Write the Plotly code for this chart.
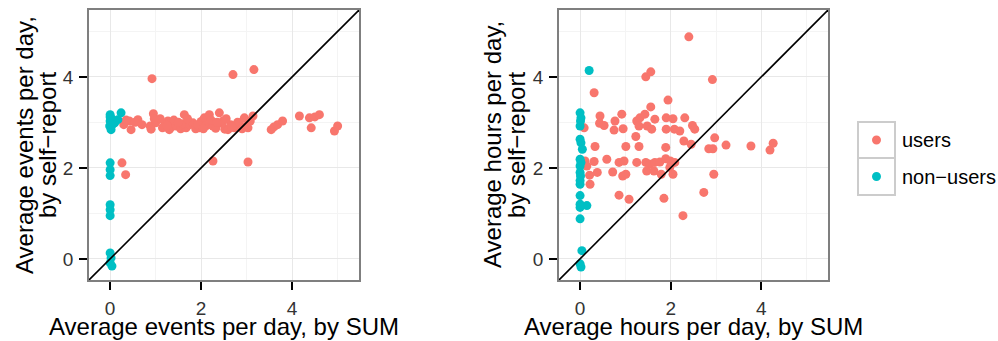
import plotly.graph_objects as go

# ---------------- data ----------------
# Left panel: events per day (x = by SUM, y = by self-report)
users_events_sum = [0.92, 2.70, 3.16, 0.95, 0.26, 0.34, 2.26, 3.03,
                    0.42, 0.61, 0.46, 0.55, 0.88, 1.00, 0.90, 1.27, 1.30, 1.20, 1.35, 1.45,
                    1.40, 1.55, 1.63, 1.67, 1.60, 1.75, 1.82, 1.88, 1.96, 2.00, 2.07, 2.12,
                    2.18, 2.26, 2.22, 2.32, 2.40, 2.45, 2.48, 2.52, 2.59, 2.65, 2.73, 2.80,
                    2.84, 2.90, 2.95, 3.00, 3.03, 3.08, 3.14, 3.54, 3.60, 3.68, 3.79, 4.16,
                    4.38, 4.42, 4.50, 4.60, 4.93, 5.00, 1.10, 1.15, 1.50, 1.70, 1.92, 2.05,
                    2.35, 2.55, 2.68, 1.25, 0.97, 0.30, 0.35, 0.70]
users_events_self = [3.96, 4.05, 4.16, 3.19, 2.11, 1.85, 2.15, 2.13,
                     3.03, 3.06, 2.84, 3.00, 2.92, 2.99, 2.85, 3.03, 2.84, 2.95, 2.90, 2.92,
                     3.05, 2.86, 3.17, 2.88, 2.97, 2.95, 2.99, 2.86, 2.88, 3.02, 3.10, 2.93,
                     3.17, 2.92, 3.05, 2.87, 3.21, 2.98, 3.03, 2.85, 2.84, 2.95, 2.88, 3.00,
                     2.99, 2.86, 3.10, 2.92, 2.88, 3.03, 3.14, 2.84, 2.90, 2.95, 3.03, 3.14,
                     3.10, 2.88, 3.12, 3.17, 2.81, 2.92, 3.08, 2.88, 3.00, 3.08, 2.95, 2.86,
                     3.00, 3.08, 2.90, 2.92, 3.08, 2.95, 3.05, 2.95]
nonusers_events_sum = [0.00, 0.02, 0.00, -0.01, 0.02, 0.10, 0.24, 0.17, 0.05, 0.00,
                       0.00, 0.00, 0.00, 0.00, 0.00, 0.00, 0.00, 0.02, 0.00, 0.04]
nonusers_events_self = [3.17, 3.10, 3.03, 2.92, 2.84, 2.99, 3.21, 3.06, 2.95, 3.12,
                        2.11, 1.96, 1.83, 1.19, 1.08, 0.95, 0.13, 0.02, -0.09, -0.16]

# Right panel: hours per day (x = by SUM, y = by self-report)
users_hours_sum = [2.40, 1.45, 1.56, 2.92, 0.31, 1.94, 1.56, 0.44, 0.43, 0.53, 0.09, 0.77,
                   0.92, 0.75, 0.95, 1.25, 1.32, 1.43, 1.30, 1.48, 1.65, 1.58, 1.90, 2.05,
                   1.90, 2.08, 2.20, 2.31, 2.48, 2.53, 1.23, 2.29, 2.45, 2.97, 2.84, 2.93,
                   3.22, 3.77, 4.19, 4.26, 0.33, 1.01, 1.30, 1.89, 0.11, 0.31, 0.59, 0.86,
                   0.97, 1.25, 1.45, 1.54, 1.65, 1.76, 1.89, 1.99, 2.09, 1.47, 1.63, 1.79,
                   1.98, 2.05, 0.38, 0.21, 0.72, 0.94, 1.01, 0.22, 2.95, 0.86, 1.08, 1.85,
                   2.73, 2.27, 0.15]
users_hours_self = [4.88, 4.00, 4.11, 3.94, 3.65, 3.49, 3.34, 3.14, 2.98, 2.93, 2.88, 3.03,
                    3.18, 2.83, 2.86, 3.03, 3.10, 3.18, 2.92, 2.92, 3.07, 2.85, 3.10, 3.08,
                    2.85, 2.85, 2.81, 3.10, 2.93, 2.85, 2.69, 2.59, 2.52, 2.66, 2.42, 2.42,
                    2.50, 2.48, 2.39, 2.54, 2.47, 2.47, 2.47, 2.45, 2.15, 2.14, 2.19, 2.12,
                    2.15, 2.12, 2.12, 2.08, 2.12, 2.13, 2.20, 2.15, 2.12, 1.93, 1.93, 1.86,
                    2.01, 1.86, 1.90, 1.84, 1.91, 1.82, 1.86, 1.64, 1.86, 1.40, 1.31, 1.33,
                    1.46, 0.95, 2.04]
nonusers_hours_sum = [0.20, 0.00, 0.02, 0.01, 0.00, 0.00, 0.02, 0.05, 0.00, 0.02, 0.00, 0.00,
                      0.01, 0.00, 0.00, 0.00, 0.00, 0.15, 0.00, 0.00, 0.04, 0.00, 0.02]
nonusers_hours_self = [4.14, 3.21, 3.10, 3.03, 2.92, 2.63, 2.55, 2.41, 2.19, 2.12, 2.04, 1.90,
                       1.82, 1.72, 1.64, 1.39, 1.20, 1.17, 1.13, 0.88, 0.18, -0.11, -0.18]

tick_values = [0, 2, 4]
tick_labels = ["0", "2", "4"]
minor_values = [1, 3, 5]
axis_range = [-0.465, 5.47]
group_names = ["users", "non\u2212users"]
x_titles = ["Average events per day, by SUM", "Average hours per day, by SUM"]
y_titles_l1 = ["Average events per day,", "Average hours per day,"]
y_titles_l2 = ["by self\u2212report", "by self\u2212report"]

# ---------------- style ----------------
W, H = 998, 341
C_USERS = "#F8766D"
C_NON = "#00BFC4"
FONT = "Arial"

panels = [(89, 359), (559, 828)]
p_top, p_bot = 10, 280


def px_x(v):
    return v / W


def px_y(v):
    return 1 - v / H


fig = go.Figure()

datasets = [
    (users_events_sum, users_events_self, nonusers_events_sum, nonusers_events_self),
    (users_hours_sum, users_hours_self, nonusers_hours_sum, nonusers_hours_self),
]

for i, (ux, uy, nx, ny) in enumerate(datasets):
    xa = "x" if i == 0 else "x2"
    ya = "y" if i == 0 else "y2"
    fig.add_trace(go.Scatter(x=ux, y=uy, mode="markers", name=group_names[0],
                             marker=dict(color=C_USERS, size=9, line=dict(width=0)),
                             xaxis=xa, yaxis=ya, showlegend=False))
    fig.add_trace(go.Scatter(x=nx, y=ny, mode="markers", name=group_names[1],
                             marker=dict(color=C_NON, size=9, line=dict(width=0)),
                             xaxis=xa, yaxis=ya, showlegend=False))
    fig.add_trace(go.Scatter(x=[-1, 6], y=[-1, 6], mode="lines",
                             line=dict(color="black", width=1.6),
                             xaxis=xa, yaxis=ya, showlegend=False, hoverinfo="skip"))

axis_common = dict(
    range=axis_range, tickmode="array", tickvals=tick_values, ticktext=tick_labels,
    showgrid=True, gridcolor="#E8E8E8", gridwidth=1, zeroline=False,
    minor=dict(tickmode="array", tickvals=minor_values, showgrid=True,
               gridcolor="#F4F4F4", gridwidth=1, ticks=""),
    showline=True, linecolor="#7F7F7F", linewidth=1.6, mirror=True,
    ticks="outside", ticklen=8, tickwidth=2, tickcolor="black",
    tickfont=dict(family=FONT, size=19, color="#333333"),
)

for i, (l, r) in enumerate(panels):
    sx = "" if i == 0 else "2"
    fig.layout["xaxis" + sx] = go.layout.XAxis(
        domain=[px_x(l), px_x(r)], anchor="y" + sx, ticklabelstandoff=2, **axis_common)
    fig.layout["yaxis" + sx] = go.layout.YAxis(
        domain=[px_y(p_bot), px_y(p_top)], anchor="x" + sx, ticklabelstandoff=2, **axis_common)

annotations = []
title_font = dict(family=FONT, size=24, color="black")
ytitle_pos = [(24, 47), (492, 516)]
for i, (l, r) in enumerate(panels):
    annotations.append(dict(text=x_titles[i], x=px_x((l + r) / 2), y=px_y(341),
                            xref="paper", yref="paper", xanchor="center", yanchor="bottom",
                            showarrow=False, font=title_font, borderpad=0))
    cy = px_y((p_top + p_bot) / 2)
    for txt, xx in [(y_titles_l1[i], ytitle_pos[i][0]), (y_titles_l2[i], ytitle_pos[i][1])]:
        annotations.append(dict(text=txt, x=px_x(xx), y=cy, xref="paper", yref="paper",
                                xanchor="center", yanchor="middle", textangle=-90,
                                showarrow=False, font=title_font))

# legend (ggplot-style key boxes)
shapes = []
key_l, key_r = 858, 895
key_rows = [(122, 158), (158, 195)]
key_colors = [C_USERS, C_NON]
for (t, b), col, name in zip(key_rows, key_colors, group_names):
    shapes.append(dict(type="rect", xref="paper", yref="paper",
                       x0=px_x(key_l), x1=px_x(key_r), y0=px_y(b), y1=px_y(t),
                       line=dict(color="#CCCCCC", width=2), fillcolor="white"))
    cx, cyk = (key_l + key_r) / 2, (t + b) / 2
    shapes.append(dict(type="circle", xref="paper", yref="paper",
                       x0=px_x(cx - 4.5), x1=px_x(cx + 4.5), y0=px_y(cyk + 4.5), y1=px_y(cyk - 4.5),
                       line=dict(width=0), fillcolor=col))
    annotations.append(dict(text=name, x=px_x(900), y=px_y(cyk), xref="paper", yref="paper",
                            xanchor="left", yanchor="middle", showarrow=False,
                            font=dict(family=FONT, size=20, color="black")))

fig.update_layout(
    width=W, height=H, margin=dict(l=0, r=0, t=0, b=0),
    paper_bgcolor="white", plot_bgcolor="white",
    showlegend=False, annotations=annotations, shapes=shapes,
)

fig.write_html("out.html", config={"displayModeBar": False},
               post_script="document.body.style.margin='0px';")
